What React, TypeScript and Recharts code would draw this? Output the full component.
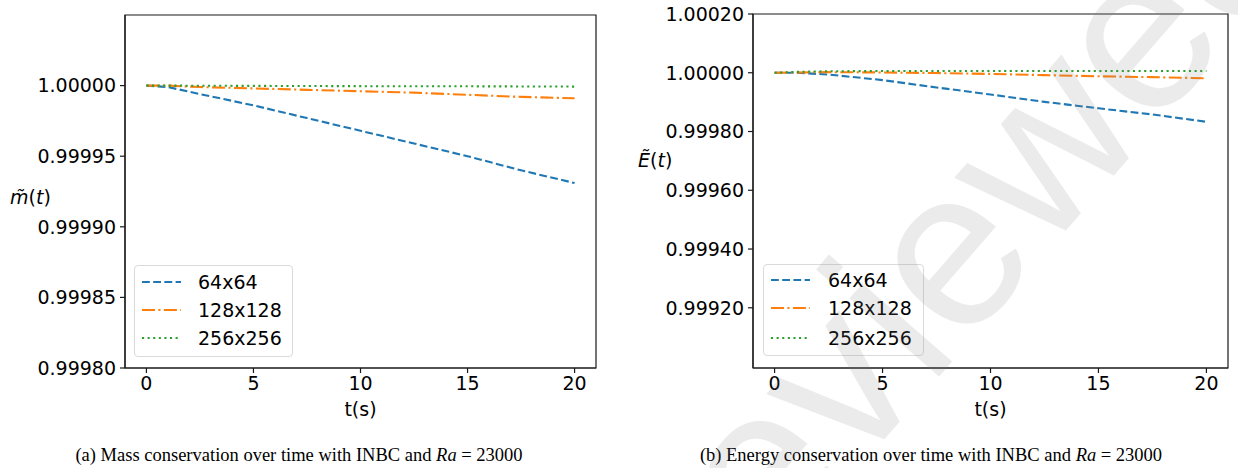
import React from 'react';
import { LineChart, Line, XAxis, YAxis, Legend, ReferenceArea } from 'recharts';

// ---- data ----
const TIME = [0, 1, 2.5, 5, 7.5, 10, 12.5, 15, 17.5, 20];
const MASS_64 = [1.0, 0.999999, 0.999994, 0.999986, 0.999977, 0.999968, 0.999959, 0.99995, 0.99994, 0.999931];
const MASS_128 = [1.0, 1.0, 0.999999, 0.999998, 0.999997, 0.999996, 0.999995, 0.9999935, 0.999992, 0.999991];
const MASS_256 = [1.0, 1.0, 0.9999999, 0.9999998, 0.9999997, 0.9999996, 0.9999995, 0.9999995, 0.9999994, 0.9999993];
const ENERGY_64 = [1.0, 1.0, 0.999994, 0.999975, 0.99995, 0.999926, 0.999901, 0.999879, 0.999858, 0.999833];
const ENERGY_128 = [1.0, 1.000001, 1.000002, 1.000001, 0.999999, 0.999996, 0.999992, 0.999988, 0.999985, 0.999981];
const ENERGY_256 = [1.0, 1.000003, 1.000005, 1.000006, 1.000006, 1.000006, 1.000006, 1.000006, 1.000006, 1.000006];

const SERIES_NAMES = ['64x64', '128x128', '256x256'];
const X_TICKS = [0, 5, 10, 15, 20];
const X_DOMAIN = [-1, 21];
const MASS_TICKS = [0.9998, 0.99985, 0.9999, 0.99995, 1.0];
const MASS_DOMAIN = [0.9998, 1.00005];
const ENERGY_TICKS = [0.9992, 0.9994, 0.9996, 0.9998, 1.0, 1.0002];
const ENERGY_DOMAIN = [0.998995, 1.0002];

const massData = TIME.map((t, i) => ({ t, a: MASS_64[i], b: MASS_128[i], c: MASS_256[i] }));
const energyData = TIME.map((t, i) => ({ t, a: ENERGY_64[i], b: ENERGY_128[i], c: ENERGY_256[i] }));

// ---- styles ----
const COLORS = ['#1f77b4', '#ff7f0e', '#2ca02c'];
const DASHES = ['7.8 3.4', '13 3.4 2.1 3.4', '2.1 3.5'];
const LW = 2.1;
const FONT = "'DejaVu Sans', sans-serif";
const FS = 19;
const AXIS = '#1a1a1a';

const tickStyle = { fontFamily: FONT, fontSize: FS, fill: '#000' };

function LegendBox({ rows, lineX1, lineX2, textX, w, h }: any) {
  return (
    <div
      style={{
        width: w,
        height: h,
        border: '1px solid #dadada',
        borderRadius: 4,
        background: 'rgba(255,255,255,0.85)',
        boxSizing: 'border-box',
        position: 'relative',
      }}
    >
      <svg width={w} height={h} style={{ position: 'absolute', left: -1, top: -1 }}>
        {SERIES_NAMES.map((name, i) => (
          <g key={name}>
            <line
              x1={lineX1}
              x2={lineX2}
              y1={rows[i]}
              y2={rows[i]}
              stroke={COLORS[i]}
              strokeWidth={LW}
              strokeDasharray={DASHES[i]}
            />
            <text x={textX} y={rows[i]} dy="0.36em" fontFamily={FONT} fontSize={FS} fill="#000">
              {name}
            </text>
          </g>
        ))}
      </svg>
    </div>
  );
}

function Panel({ data, ticks, domain, width, margin, legendPos, legendProps, ylabel, ylabelY }: any) {
  return (
    <LineChart width={width} height={430} data={data} margin={margin}>
      <XAxis
        dataKey="t"
        type="number"
        domain={X_DOMAIN}
        ticks={X_TICKS}
        allowDataOverflow
        height={60}
        tickSize={5}
        tickMargin={4}
        tick={tickStyle}
        stroke={AXIS}
        strokeWidth={1.2}
        label={(props: any) => {
          const vb = props.viewBox;
          return (
            <text x={vb.x + vb.width / 2} y={vb.y + 48} textAnchor="middle" fontFamily={FONT} fontSize={FS} fill="#000">
              t(s)
            </text>
          );
        }}
      />
      <YAxis
        type="number"
        domain={domain}
        ticks={ticks}
        allowDataOverflow
        width={80}
        tickSize={5}
        tickMargin={4}
        tick={tickStyle}
        stroke={AXIS}
        strokeWidth={1.2}
        tickFormatter={(v: number) => v.toFixed(5)}
        label={(props: any) => {
          const vb = props.viewBox;
          return (
            <text x={vb.x - 35} y={ylabelY} dy="0.36em" fontFamily={FONT} fontSize={FS} fill="#000">
              {ylabel}
            </text>
          );
        }}
      />
      <ReferenceArea
        x1={X_DOMAIN[0]}
        x2={X_DOMAIN[1]}
        y1={domain[0]}
        y2={domain[1]}
        fill="none"
        stroke={AXIS}
        strokeWidth={1.2}
        ifOverflow="visible"
      />
      <Legend
        layout="vertical"
        align="center"
        verticalAlign="middle"
        wrapperStyle={{ position: 'absolute', left: legendPos[0], top: legendPos[1], width: legendProps.w, height: legendProps.h }}
        content={() => <LegendBox {...legendProps} />}
      />
      {['a', 'b', 'c'].map((k, i) => (
        <Line
          key={k}
          dataKey={k}
          name={SERIES_NAMES[i]}
          type="linear"
          stroke={COLORS[i]}
          strokeWidth={LW}
          strokeDasharray={DASHES[i]}
          dot={false}
          activeDot={false}
          isAnimationActive={false}
        />
      ))}
    </LineChart>
  );
}

export default function App() {
  return (
    <div
      style={{
        position: 'absolute',
        left: 0,
        top: 0,
        width: 1238,
        height: 468,
        background: '#fff',
        overflow: 'hidden',
      }}
    >
      <div style={{ position: 'absolute', left: 0, top: 0 }}>
        <Panel
          data={massData}
          ticks={MASS_TICKS}
          domain={MASS_DOMAIN}
          width={620}
          margin={{ top: 15, right: 24, bottom: 2, left: 45 }}
          legendPos={[134, 265]}
          legendProps={{ rows: [17, 45, 73], lineX1: 8, lineX2: 47, textX: 64, w: 159, h: 92 }}
          ylabel={
            <>
              <tspan fontStyle="italic">m̃</tspan>(<tspan fontStyle="italic">t</tspan>)
            </>
          }
          ylabelY={197}
        />
      </div>
      <div style={{ position: 'absolute', left: 620, top: 0 }}>
        <Panel
          data={energyData}
          ticks={ENERGY_TICKS}
          domain={ENERGY_DOMAIN}
          width={618}
          margin={{ top: 14, right: 10, bottom: 2, left: 53 }}
          legendPos={[143, 264]}
          legendProps={{ rows: [16, 44, 74], lineX1: 8, lineX2: 47, textX: 65, w: 161, h: 92 }}
          ylabel={
            <>
              <tspan fontStyle="italic">Ẽ</tspan>(<tspan fontStyle="italic">t</tspan>)
            </>
          }
          ylabelY={160}
        />
      </div>
      <svg
        width={1238}
        height={468}
        style={{ position: 'absolute', left: 0, top: 0, pointerEvents: 'none' }}
      >
        <text
          x={299}
          y={461}
          textAnchor="middle"
          fontFamily="'Liberation Serif', 'Times New Roman', serif"
          fontSize={18.5}
          fill="#000"
        >
          (a) Mass conservation over time with INBC and <tspan fontStyle="italic">Ra</tspan> = 23000
        </text>
        <text
          x={931}
          y={461}
          textAnchor="middle"
          fontFamily="'Liberation Serif', 'Times New Roman', serif"
          fontSize={18.5}
          fill="#000"
        >
          (b) Energy conservation over time with INBC and <tspan fontStyle="italic">Ra</tspan> = 23000
        </text>
        <text
          x={1315}
          y={-56}
          transform="rotate(-49 1315 -56)"
          textAnchor="end"
          fontFamily="'Liberation Sans', Arial, sans-serif"
          fontSize={225}
          fill="#808080"
          fillOpacity={0.16}
        >
          Preprint not peer reviewed
        </text>
      </svg>
    </div>
  );
}
